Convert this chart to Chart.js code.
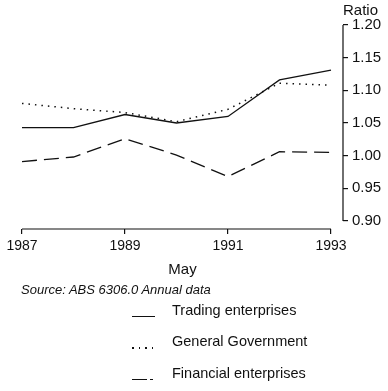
<!DOCTYPE html>
<html>
<head>
<meta charset="utf-8">
<script src="https://cdn.jsdelivr.net/npm/chart.js@4/dist/chart.umd.min.js"></script>
<style>
  body { margin: 0; background: #fff; }
  .wrap { position: relative; width: 388px; height: 391px; font-family: "Liberation Sans", Arial, sans-serif; color: #111; }
  canvas { position: absolute; left: 0; top: 0; }
  .ratio { position: absolute; left: 343px; top: 1px; font-size: 15px; line-height: 17px; }
  .source { position: absolute; left: 21px; top: 282px; font-size: 13px; font-style: italic; line-height: 15px; }
  .legend { position: absolute; left: 132px; top: 300px; font-size: 14.5px; }
  .legend .row { position: absolute; left: 0; white-space: nowrap; height: 17px; line-height: 17px; }
  .legend .swatch { position: absolute; left: 0; top: 14px; width: 23px; height: 1.3px; background: #111; }
  .legend .dot { width: 22px; height: 1.5px;
    background: repeating-linear-gradient(to right, #111 0, #111 1.5px, transparent 1.5px, transparent 6.5px); }
  .legend .dash { width: 22px;
    background: linear-gradient(to right, #111 0, #111 15px, transparent 15px, transparent 18px, #111 18px, #111 21px, transparent 21px); }
  .legend .txt { position: absolute; left: 40px; top: 0; }
</style>
</head>
<body>
<div class="wrap">
  <canvas id="chart" width="388" height="391"></canvas>
  <div class="ratio">Ratio</div>
  <div class="source">Source: ABS 6306.0 Annual data</div>
  <div class="legend">
    <div class="row" style="top:2px"><span class="swatch"></span><span class="txt">Trading enterprises</span></div>
    <div class="row" style="top:33px"><span class="swatch dot"></span><span class="txt">General Government</span></div>
    <div class="row" style="top:65px"><span class="swatch dash"></span><span class="txt">Financial enterprises</span></div>
  </div>
</div>
<script>
const years = [1987, 1988, 1989, 1990, 1991, 1992, 1993];
const trading = [1.043, 1.043, 1.063, 1.050, 1.060, 1.116, 1.131];
const generalGov = [1.080, 1.072, 1.066, 1.052, 1.071, 1.111, 1.108];
const financial = [0.991, 0.998, 1.026, 1.001, 0.968, 1.006, 1.005];
const xTicks = [1987, 1989, 1991, 1993];
const yTicks = [0.90, 0.95, 1.00, 1.05, 1.10, 1.15, 1.20];

const ink = '#111';

function pts(vals) {
    return years.map((y, i) => ({ x: y, y: vals[i] }));
}

// axis lines only as long as the tick range, like the print
const axisLines = {
    id: 'axisLines',
    afterDraw(chart) {
        const c = chart.ctx;
        const xs = chart.scales.x, ys = chart.scales.y;
        const area = chart.chartArea;
        c.save();
        c.strokeStyle = ink;
        c.lineWidth = 1.2;
        c.beginPath();
        c.moveTo(xs.getPixelForValue(xTicks[0]), area.bottom);
        c.lineTo(xs.getPixelForValue(xTicks[xTicks.length - 1]), area.bottom);
        c.moveTo(area.right, ys.getPixelForValue(yTicks[yTicks.length - 1]));
        c.lineTo(area.right, ys.getPixelForValue(yTicks[0]));
        c.stroke();
        c.restore();
    }
};

new Chart(document.getElementById('chart'), {
    type: 'line',
    data: {
        datasets: [{
            label: 'Trading enterprises',
            data: pts(trading),
            borderColor: ink,
            borderWidth: 1.3
        }, {
            label: 'General Government',
            data: pts(generalGov),
            borderColor: ink,
            borderWidth: 1.5,
            borderDash: [1.5, 5]
        }, {
            label: 'Financial enterprises',
            data: pts(financial),
            borderColor: ink,
            borderWidth: 1.3,
            borderDash: [15, 7]
        }]
    },
    options: {
        responsive: false,
        animation: false,
        tension: 0,
        pointRadius: 0,
        layout: {
            padding: { left: 22, top: 25, right: 0, bottom: 112 }
        },
        scales: {
            x: {
                type: 'linear',
                min: 1987,
                max: 1993.233,
                afterBuildTicks: s => { s.ticks = xTicks.map(v => ({ value: v })); },
                afterFit: s => { s.height = 50; },
                border: { display: false },
                grid: { drawOnChartArea: false, drawTicks: true, tickLength: 5, color: ink, lineWidth: 1.2 },
                ticks: {
                    color: ink,
                    font: { family: 'Liberation Sans', size: 14 },
                    padding: 4,
                    maxRotation: 0,
                    callback: v => String(v)
                },
                title: {
                    display: true,
                    text: 'May',
                    color: ink,
                    font: { family: 'Liberation Sans', size: 15 },
                    padding: { top: 3, bottom: 0 }
                }
            },
            y: {
                position: 'right',
                min: 0.8878,
                max: 1.20,
                afterBuildTicks: s => { s.ticks = yTicks.map(v => ({ value: v })); },
                afterFit: s => { s.width = 45; },
                border: { display: false },
                grid: { drawOnChartArea: false, drawTicks: true, tickLength: 5, color: ink, lineWidth: 1.2 },
                ticks: {
                    color: ink,
                    font: { family: 'Liberation Sans', size: 15 },
                    padding: 4,
                    callback: v => v.toFixed(2)
                }
            }
        },
        plugins: {
            legend: { display: false },
            tooltip: { enabled: false }
        }
    },
    plugins: [axisLines]
});
</script>
</body>
</html>
